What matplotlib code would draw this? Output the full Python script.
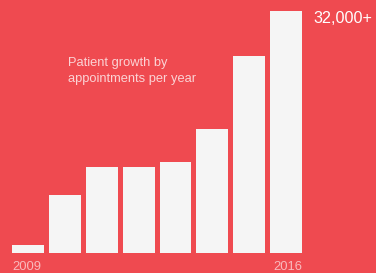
import matplotlib
matplotlib.use("Agg")
import matplotlib.pyplot as plt

years = [2009, 2010, 2011, 2012, 2013, 2014, 2015, 2016]
appointments = [1000, 7650, 11400, 11400, 12000, 16400, 26050, 32000]
top_label = "32,000+"
caption = "Patient growth by\nappointments per year"

BG = "#EF4A50"
BAR = "#F5F5F5"

plt.rcParams['font.family'] = ['Liberation Sans', 'DejaVu Sans']

fig = plt.figure(figsize=(3.76, 2.73), dpi=100, facecolor=BG)
ax = fig.add_axes([0, 0, 1, 1])
ax.set_facecolor(BG)

idx = list(range(len(years)))
ax.bar(idx, appointments, width=0.865, color=BAR)

ax.set_xlim(-0.76, 9.44)
ax.set_ylim(-2690, 33460)
ax.axis('off')

# year labels at both ends
ax.text(idx[0] - 0.43, -2280, str(years[0]), color="#F9B9BC", fontsize=9.4,
        ha='left', va='baseline')
ax.text(idx[-1] + 0.43, -2280, str(years[-1]), color="#F9B9BC", fontsize=9.4,
        ha='right', va='baseline')

ax.text(idx[-1] + 0.73, appointments[-1] - 1550, top_label, color="white",
        fontsize=11.6, ha='left', va='baseline')

ax.text(0.181, 0.70, caption, transform=ax.transAxes, color="#FBD3D5",
        fontsize=9.3, ha='left', va='baseline', linespacing=1.45)

plt.savefig("out.png", dpi=100, facecolor=BG)
plt.close()
